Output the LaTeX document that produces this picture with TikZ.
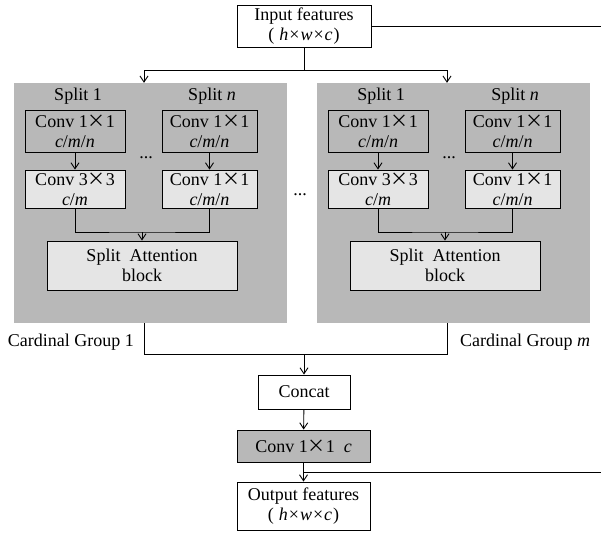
\documentclass[tikz,border=0pt]{standalone}
\usepackage{fontspec}
\setmainfont{Liberation Serif}
\newfontfamily\cjk{Noto Sans CJK SC}
\usetikzlibrary{arrows.meta}
\newcommand{\tms}{{\cjk ×}}
\newcommand{\hwc}{(\kern5pt\textit{h}\kern1pt×\kern1pt\textit{w}\kern1pt×\kern1pt\textit{c}\kern1pt)}
\begin{document}
\begin{tikzpicture}[x=1pt,y=-1pt,
  every node/.style={font=\fontsize{18}{20}\selectfont, inner sep=0pt},
  box/.style={draw=black, line width=0.9pt, fill=white, align=center},
  dbox/.style={box, fill=black!28},
  lbox/.style={box, fill=black!10},
  panel/.style={fill=black!28, draw=none},
  conn/.style={line width=0.9pt},
  arr/.style={conn, -{Straight Barb[length=6pt,width=8pt]}},
  lbl/.style={font=\fontsize{18}{20}\selectfont}
]
\useasboundingbox (0,0) rectangle (601,533);

% input
\node[box, minimum width=134pt, minimum height=42pt] (in) at (304,26) {Input features\\\hwc};
\coordinate (inR) at (601,26);
\draw[conn] (in.east) -- (inR);
\coordinate (sp) at (304,70);
\coordinate (spL) at (144,70);
\coordinate (spR) at (447,70);
\draw[conn] (in.south) -- (sp);
\draw[conn] (spL) -- (spR);

% panels
\foreach \o/\g in {0/L,303/R}{
  \node[panel, minimum width=273pt, minimum height=240pt] (panel\g) at (150.5+\o,203) {};
  \node[lbl] (s1\g) at (78+\o,96) {Split 1};
  \node[lbl] (sn\g) at (212+\o,96) {Split \textit{n}};
  \node[dbox, minimum width=100pt, minimum height=42pt] (a\g) at (75+\o,131) {Conv 1\tms1\\\textit{c}/\textit{m}/\textit{n}};
  \node[dbox, minimum width=95pt, minimum height=42pt] (b\g) at (209.5+\o,131) {Conv 1\tms1\\\textit{c}/\textit{m}/\textit{n}};
  \node[lbox, minimum width=100pt, minimum height=38pt] (c\g) at (75+\o,189) {Conv 3\tms3\\\textit{c}/\textit{m}};
  \node[lbox, minimum width=95pt, minimum height=38pt] (d\g) at (209.5+\o,189) {Conv 1\tms1\\\textit{c}/\textit{m}/\textit{n}};
  \node[lbl] (dots\g) at (146+\o,158) {...};
  \node[lbox, minimum width=190pt, minimum height=49pt] (sa\g) at (142+\o,265.5) {Split\ \ Attention\\block};
  \draw[arr] (a\g) -- (c\g);
  \draw[arr] (b\g) -- (d\g);
  \coordinate (m\g) at (142+\o,232);
  \draw[conn] (c\g.south) |- (m\g) -| (d\g.south);
  \draw[arr] (m\g) -- (sa\g);
}
\draw[arr] (spL) -- (spL |- panelL.north);
\draw[arr] (spR) -- (spR |- panelR.north);
\node[lbl] (dotsM) at (300,195) {...};

% bottom
\coordinate (jL) at (144,354);
\coordinate (jR) at (447,354);
\coordinate (jM) at (304,354);
\draw[conn] (jL |- panelL.south) -- (jL) -- (jR) -- (jR |- panelR.south);
\node[lbl, anchor=east] (cg1) at (134,342) {Cardinal Group 1};
\node[lbl, anchor=west] (cgm) at (460,342) {Cardinal Group \textit{m}};

\node[box, minimum width=92pt, minimum height=34pt] (cat) at (304,392) {Concat};
\draw[arr] (jM) -- (cat);
\node[dbox, minimum width=133pt, minimum height=32pt] (cc) at (303.5,446) {Conv 1\tms1\ \ \textit{c}};
\draw[arr] (cat) -- (cc);
\node[box, minimum width=133pt, minimum height=48pt] (out) at (303.5,506) {Output features\\\hwc};
\draw[arr] (cc) -- (out);
\coordinate (br) at (304,472);
\coordinate (brR) at (601,472);
\draw[conn] (br) -- (brR);
\end{tikzpicture}
\end{document}
